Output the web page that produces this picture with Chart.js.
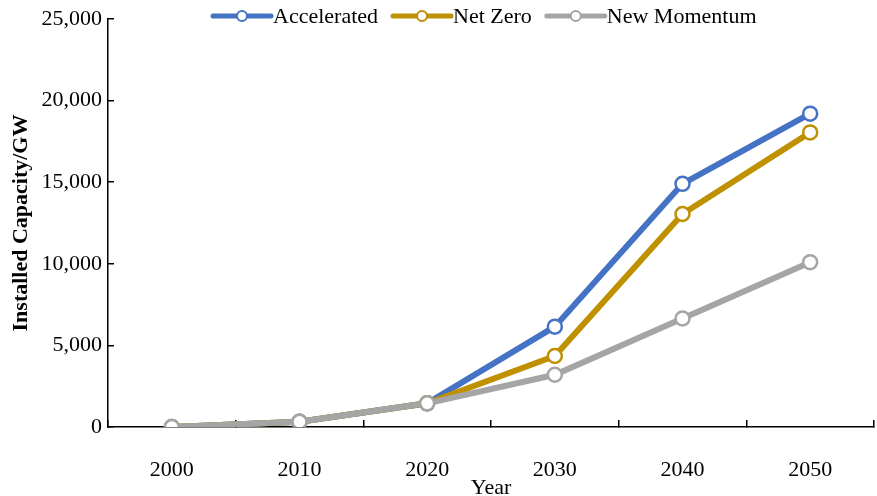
<!DOCTYPE html>
<html>
<head>
<meta charset="utf-8">
<script src="https://cdn.jsdelivr.net/npm/chart.js@4"></script>
<style>
  html, body { margin: 0; padding: 0; background: #fff; }
  #wrap { width: 877px; height: 496px; }
</style>
</head>
<body>
<div id="wrap"><canvas id="chart" width="877" height="496"></canvas></div>
<script>
// Dati (GW installati)
const years = ['2000', '2010', '2020', '2030', '2040', '2050'];
const accelerated = [0, 320, 1450, 6150, 14900, 19200];
const netZero = [0, 320, 1450, 4350, 13050, 18050];
const newMomentum = [0, 320, 1450, 3200, 6650, 10100];
const yTicks = [0, 5000, 10000, 15000, 20000, 25000];

const FONT = "'Liberation Serif', 'Times New Roman', serif";

// Legenda disegnata a mano: linea + cerchio come nell'originale
const lineLegend = {
  id: 'lineLegend',
  afterDraw(chart) {
    const ctx = chart.ctx;
    const y = 16;
    let x = 213;
    ctx.save();
    ctx.font = '22px ' + FONT;
    ctx.textBaseline = 'middle';
    chart.data.datasets.forEach(ds => {
      ctx.strokeStyle = ds.borderColor;
      ctx.lineWidth = 5;
      ctx.lineCap = 'round';
      ctx.beginPath();
      ctx.moveTo(x, y);
      ctx.lineTo(x + 58, y);
      ctx.stroke();
      ctx.beginPath();
      ctx.arc(x + 29, y, 5, 0, Math.PI * 2);
      ctx.fillStyle = '#fff';
      ctx.fill();
      ctx.lineWidth = 2;
      ctx.stroke();
      ctx.fillStyle = '#000';
      ctx.fillText(ds.label, x + 60, y + 1);
      x += 60 + ctx.measureText(ds.label).width + 15;
    });
    ctx.restore();
  }
};

function serie(label, data, color, order) {
  return {
    label: label,
    data: data,
    borderColor: color,
    backgroundColor: color,
    borderWidth: 6,
    pointRadius: 7,
    pointBorderWidth: 2.5,
    pointBackgroundColor: '#fff',
    pointBorderColor: color,
    tension: 0,
    order: order
  };
}

new Chart(document.getElementById('chart'), {
  type: 'line',
  data: {
    labels: years,
    datasets: [
      serie('Accelerated', accelerated, '#4472C4', 2),
      serie('Net Zero', netZero, '#BF9000', 1),
      serie('New Momentum', newMomentum, '#A5A5A5', 0)
    ]
  },
  options: {
    responsive: false,
    animation: false,
    layout: { autoPadding: false, padding: { top: 19, right: 3, bottom: 0, left: 0 } },
    plugins: {
      legend: { display: false },
      tooltip: { enabled: false }
    },
    scales: {
      x: {
        offset: true,
        grid: { offset: true, drawOnChartArea: false, tickLength: -7, color: '#000', lineWidth: 1.5 },
        border: { color: '#000', width: 1.5 },
        ticks: { padding: 39, color: '#000', font: { family: FONT, size: 22, lineHeight: 1 } },
        title: { display: true, text: 'Year', color: '#000', padding: 0,
                 font: { family: FONT, size: 22, lineHeight: 0.75 } },
        afterFit(s) { s.height = 69; }
      },
      y: {
        min: 0,
        max: 25000,
        afterBuildTicks(s) { s.ticks = yTicks.map(v => ({ value: v })); },
        grid: { drawOnChartArea: false, tickLength: -6, color: '#000', lineWidth: 1.5 },
        border: { color: '#000', width: 1.5 },
        // lineHeight ridotto: il padding in alto della scala dipende da esso
        ticks: { padding: 12, color: '#000', font: { family: FONT, size: 22, lineHeight: 0.6 },
                 callback: v => v.toLocaleString('en-US') },
        title: { display: true, text: 'Installed Capacity/GW', color: '#000', padding: { top: 10, bottom: 0 },
                 font: { family: FONT, size: 22, weight: 'bold', lineHeight: 1 } },
        afterFit(s) { s.width = 108; }
      }
    }
  },
  plugins: [lineLegend]
});
</script>
</body>
</html>
